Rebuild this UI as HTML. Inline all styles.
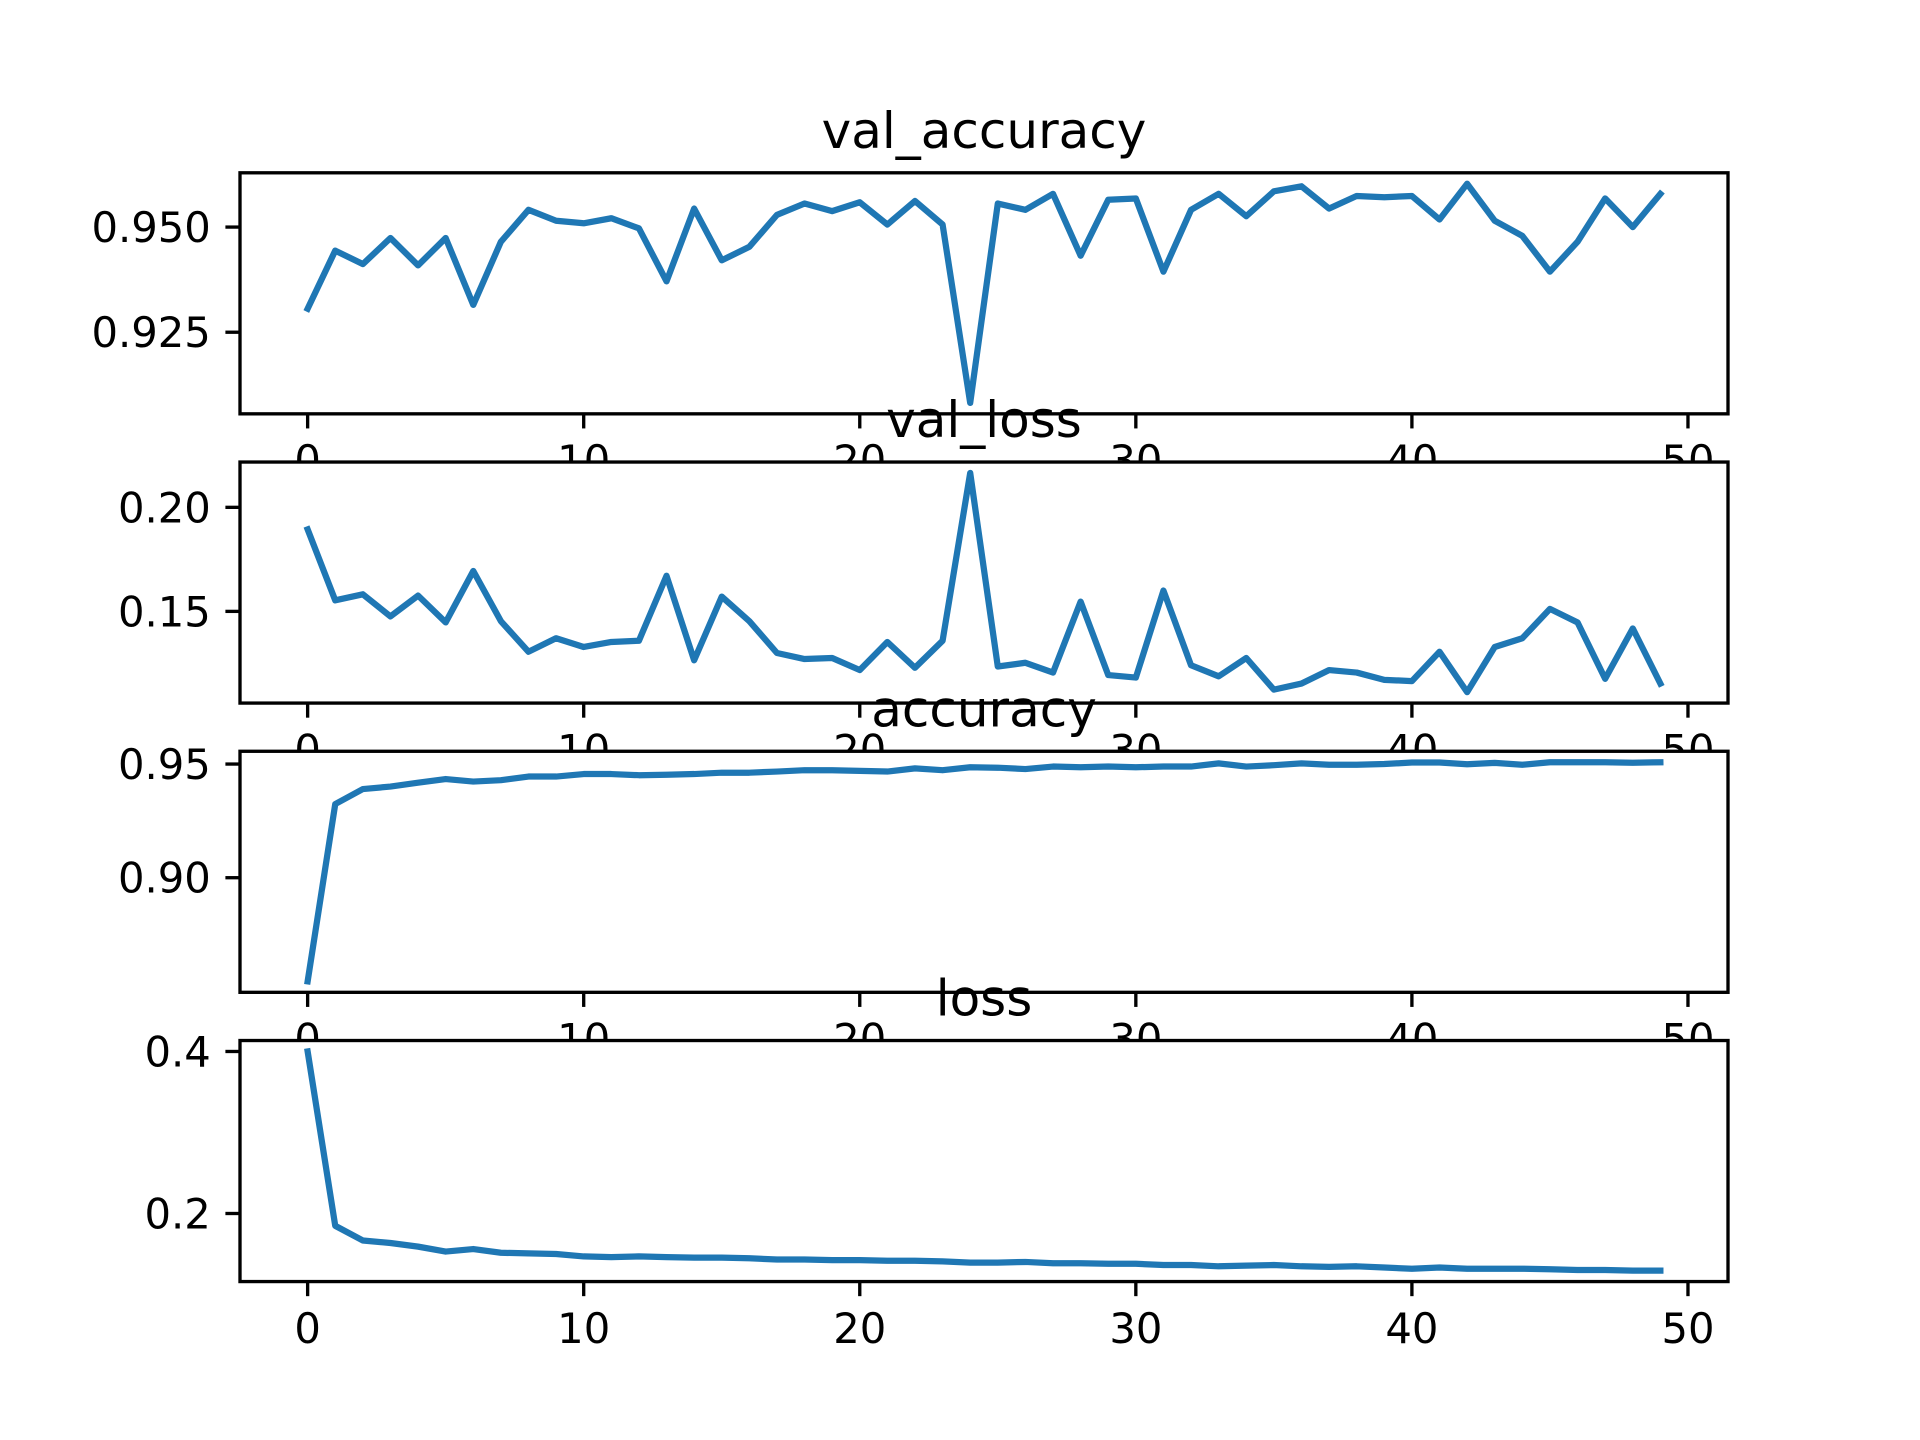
<!DOCTYPE html>
<html><head><meta charset="utf-8"><style>
html,body{margin:0;padding:0;background:#fff;}
svg{display:block;font-family:"DejaVu Sans","Liberation Sans",sans-serif;}
</style></head><body>
<svg id="fig" width="1920" height="1440" viewBox="0 0 1920 1440" xmlns="http://www.w3.org/2000/svg"></svg>
<script>
const epochs = Array.from({length:50},(_,i)=>i);
const xTicks = [0,10,20,30,40,50];
const titles = ["val_accuracy","val_loss","accuracy","loss"];
const valAccuracy = [0.9306,0.9444,0.9412,0.9474,0.9409,0.9474,0.9315,0.9465,0.9541,0.9515,0.9509,0.9521,0.9497,0.9371,0.9544,0.9421,0.9453,0.9529,0.9556,0.9538,0.9559,0.9506,0.9562,0.9506,0.9082,0.9556,0.9541,0.9579,0.9432,0.9565,0.9568,0.9394,0.9541,0.9579,0.9526,0.9585,0.9597,0.9544,0.9574,0.9571,0.9574,0.9518,0.9603,0.9515,0.9479,0.9394,0.9465,0.9568,0.9500,0.9579];
const valLoss = [0.1894,0.1553,0.1582,0.1476,0.1576,0.1447,0.1694,0.1453,0.1306,0.1371,0.1329,0.1353,0.1359,0.1671,0.1265,0.1571,0.1453,0.1300,0.1271,0.1276,0.1218,0.1353,0.1229,0.1359,0.2165,0.1235,0.1253,0.1206,0.1547,0.1194,0.1182,0.1600,0.1241,0.1188,0.1276,0.1124,0.1153,0.1218,0.1206,0.1171,0.1165,0.1306,0.1112,0.1329,0.1371,0.1512,0.1447,0.1176,0.1418,0.1153];
const accuracy = [0.8544,0.9324,0.9390,0.9401,0.9418,0.9434,0.9423,0.9429,0.9445,0.9445,0.9456,0.9456,0.9451,0.9453,0.9456,0.9462,0.9462,0.9467,0.9473,0.9473,0.9470,0.9467,0.9481,0.9473,0.9486,0.9484,0.9478,0.9489,0.9486,0.9489,0.9486,0.9489,0.9489,0.9503,0.9489,0.9495,0.9503,0.9497,0.9497,0.9500,0.9507,0.9507,0.9499,0.9505,0.9497,0.9508,0.9508,0.9508,0.9506,0.9508];
const loss = [0.400,0.1848,0.1667,0.1636,0.1591,0.1530,0.1561,0.1515,0.1508,0.1500,0.1470,0.1462,0.1470,0.1462,0.1455,0.1455,0.1447,0.1432,0.1432,0.1424,0.1424,0.1417,0.1417,0.1409,0.1394,0.1394,0.1402,0.1386,0.1386,0.1379,0.1379,0.1364,0.1364,0.1348,0.1356,0.1364,0.1348,0.1341,0.1348,0.1333,0.1318,0.1333,0.1318,0.1318,0.1318,0.1311,0.1303,0.1303,0.1295,0.1295];
const yTicks = [[0.925,0.950],[0.15,0.20],[0.90,0.95],[0.2,0.4]];
const yTickLabels = [["0.925","0.950"],["0.15","0.20"],["0.90","0.95"],["0.2","0.4"]];
const series = [valAccuracy,valLoss,accuracy,loss];

const NS="http://www.w3.org/2000/svg";
const svg=document.getElementById('fig');
function mk(tag,attrs,parent){const e=document.createElementNS(NS,tag);for(const k in attrs)e.setAttribute(k,attrs[k]);(parent||svg).appendChild(e);return e;}
const L=240,R=1728,TOP=172.8,H=241.04,GAP=48.2;
const xmin=-2.45,xmax=51.45;
const sx=v=>L+(v-xmin)/(xmax-xmin)*(R-L);
for(let i=0;i<4;i++){
  const t=TOP+i*(H+GAP),b=t+H;
  const d=series[i];
  const mn=Math.min(...d),mx=Math.max(...d),pad=(mx-mn)*0.05;
  const y0=mn-pad,y1=mx+pad;
  const sy=v=>b-(v-y0)/(y1-y0)*H;
  const g=mk('g',{});
  
  
  const bg=mk('rect',{x:L,y:t,width:R-L,height:H,fill:'#fff'},g);
  
  
  const pts=epochs.map((e,j)=>sx(e).toFixed(2)+','+sy(d[j]).toFixed(2)).join(' ');
  const line=mk('polyline',{points:pts,fill:'none',stroke:'#1f77b4','stroke-width':6.25,'stroke-linejoin':'round','stroke-linecap':'square'},g);
  
  
  const frame=mk('rect',{x:L,y:t,width:R-L,height:H,fill:'none',stroke:'#000','stroke-width':3.33},g);
  
  
  xTicks.forEach(v=>{
    const x=sx(v);
    mk('line',{x1:x,x2:x,y1:b,y2:b+14.6,stroke:'#000','stroke-width':3.33},g);
    const tx=mk('text',{x:x,y:b+14.6+14.6+32,'font-size':41.7,'text-anchor':'middle',fill:'#000'},g);
    tx.textContent=String(v);
    
    
  });
  yTicks[i].forEach((v,k)=>{
    const y=sy(v);
    mk('line',{x1:L-14.6,x2:L,y1:y,y2:y,stroke:'#000','stroke-width':3.33},g);
    const ty=mk('text',{x:L-14.6-14.6,y:y+15,'font-size':41.7,'text-anchor':'end',fill:'#000'},g);
    ty.textContent=yTickLabels[i][k];
    
    
  });
  const tt=mk('text',{x:(L+R)/2,y:t-25,'font-size':50,'text-anchor':'middle',fill:'#000'},g);
  tt.textContent=titles[i];
  
  
}
</script>
</body></html>
